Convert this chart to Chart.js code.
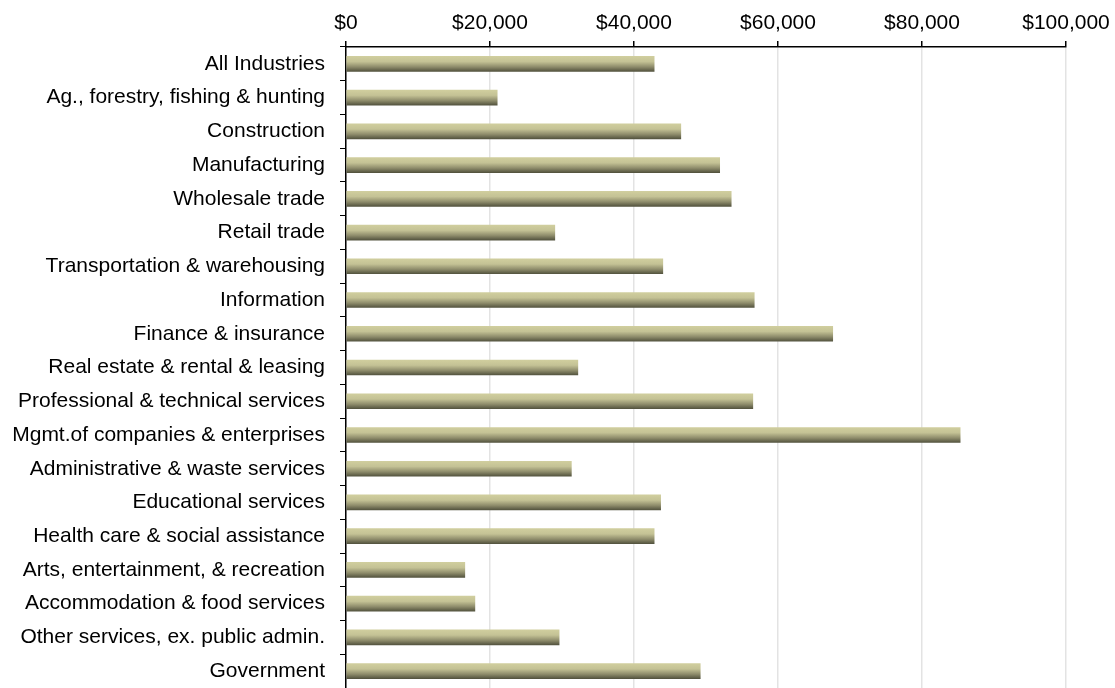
<!DOCTYPE html>
<html>
<head>
<meta charset="utf-8">
<script src="https://cdn.jsdelivr.net/npm/chart.js@4"></script>
<style>
  html, body { margin: 0; padding: 0; background: #fff; }
  #wrap { width: 1115px; height: 688px; }
</style>
</head>
<body>
<div id="wrap"><canvas id="chart" width="1115" height="688"></canvas></div>
<script>
// ---- Data ------------------------------------------------------
const industries = [
  "All Industries",
  "Ag., forestry, fishing & hunting",
  "Construction",
  "Manufacturing",
  "Wholesale trade",
  "Retail trade",
  "Transportation & warehousing",
  "Information",
  "Finance & insurance",
  "Real estate & rental & leasing",
  "Professional & technical services",
  "Mgmt.of companies & enterprises",
  "Administrative & waste services",
  "Educational services",
  "Health care & social assistance",
  "Arts, entertainment, & recreation",
  "Accommodation & food services",
  "Other services, ex. public admin.",
  "Government",
];
const wages = [
  42800, 21000, 46500, 51900, 53500, 29000, 44000, 56700, 67600, 32200,
  56500, 85300, 31300, 43700, 42800, 16500, 17900, 29600, 49200,
];
const xTicks = [0, 20000, 40000, 60000, 80000, 100000];

const font = { family: "'Liberation Sans', Arial, sans-serif", size: 21 };
const fmt  = (v) => "$" + v.toLocaleString("en-US");

// vertical gradient per bar (light khaki on top, dark olive at the bottom)
function barFill(ctx) {
  const chart = ctx.chart;
  const y = chart.scales && chart.scales.y;
  if (!chart.chartArea || !y) return "#a9a77f";
  const yc = y.getPixelForValue(ctx.dataIndex);
  const g = chart.ctx.createLinearGradient(0, yc - 7.5, 0, yc + 7.5);
  g.addColorStop(0,    "#d0ce9e");
  g.addColorStop(0.35, "#c4c295");
  g.addColorStop(0.7,  "#8e8c6b");
  g.addColorStop(1,    "#54543f");
  return g;
}

new Chart(document.getElementById("chart"), {
  type: "bar",
  data: {
    labels: industries,
    datasets: [{
      data: wages,
      backgroundColor: barFill,
      borderWidth: 0,
      barThickness: 15,
    }],
  },
  options: {
    indexAxis: "y",
    responsive: false,
    animation: false,
    layout: { padding: { right: 49, bottom: 0, left: 0, top: 0 } },
    plugins: { legend: { display: false }, tooltip: { enabled: false } },
    scales: {
      x: {
        position: "top",
        min: 0,
        max: 100000,
        afterBuildTicks: (s) => { s.ticks = xTicks.map((v) => ({ value: v })); },
        afterFit: (s) => { s.height = 47; s.paddingLeft = 0; s.paddingRight = 0; },
        grid: { color: "#e3e3e3", lineWidth: 1.5, tickColor: "#000", tickLength: 6 },
        border: { display: true, color: "#000", width: 1.5 },
        ticks: { color: "#000", font, padding: 5, maxRotation: 0, callback: (v) => fmt(v) },
      },
      y: {
        offset: true,
        afterFit: (s) => { s.width = 346; s.paddingTop = 0; s.paddingBottom = 0; },
        grid: { offset: true, drawOnChartArea: false, color: "#000", tickColor: "#000", tickLength: 6 },
        border: { display: true, color: "#000", width: 1.5 },
        ticks: { color: "#000", font, padding: 15, autoSkip: false },
      },
    },
  },
});
</script>
</body>
</html>
